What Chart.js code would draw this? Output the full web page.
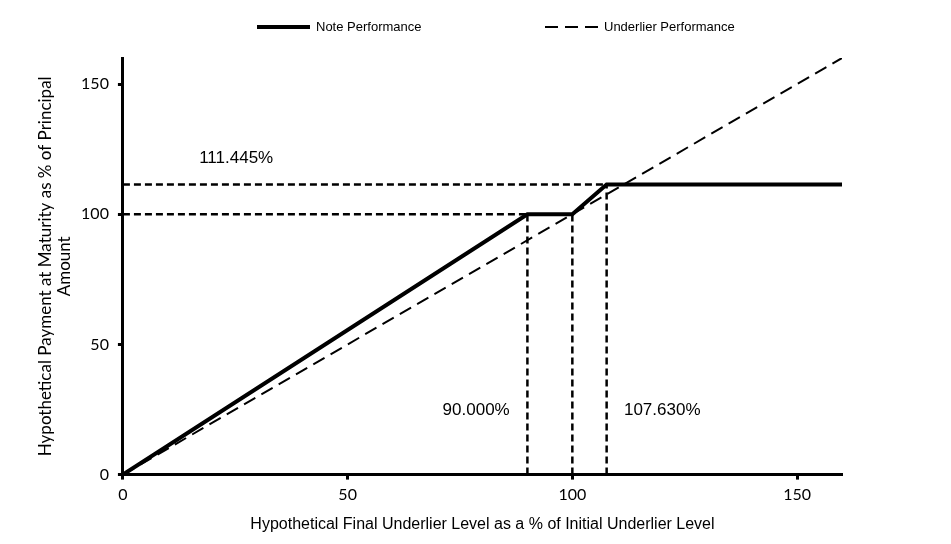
<!DOCTYPE html>
<html lang="en">
<head>
  <meta charset="UTF-8">
  <title>Note Performance</title>
  <script src="https://cdn.jsdelivr.net/npm/chart.js"></script>
  <style>
    html, body { margin: 0; padding: 0; background: #fff; }
    #wrap { width: 951px; height: 544px; }
  </style>
</head>
<body>
  <div id="wrap"><canvas id="chart" width="951" height="544"></canvas></div>

  <script>
    // payoff values
    const noteX = [0, 90, 100, 107.63, 160];
    const noteY = [0, 100, 100, 111.445, 111.445];
    const underX = [0, 160];
    const underY = [0, 160];

    const capLevel = 111.445;
    const capStrike = 107.63;
    const bufferLevel = 90;
    const initialLevel = 100;

    const xTicks = [0, 50, 100, 150];
    const yTicks = [0, 50, 100, 150];

    const seriesNames = ['Note Performance', 'Underlier Performance'];
    const annotationText = ['111.445%', '90.000%', '107.630%'];

    const pts = (xs, ys) => xs.map((x, i) => ({ x, y: ys[i] }));

    const guide = data => ({
      data, showLine: true, borderColor: '#000', borderWidth: 2.5,
      borderDash: [7, 4], pointRadius: 0, fill: false
    });

    const guides = [
      guide([{ x: 0, y: capLevel }, { x: capStrike, y: capLevel }]),
      guide([{ x: 0, y: initialLevel }, { x: bufferLevel, y: initialLevel }]),
      guide([{ x: bufferLevel, y: 0 }, { x: bufferLevel, y: initialLevel }]),
      guide([{ x: initialLevel, y: 0 }, { x: initialLevel, y: initialLevel }]),
      guide([{ x: capStrike, y: 0 }, { x: capStrike, y: capLevel }])
    ];

    // legend + value labels drawn by hand
    const extras = {
      id: 'extras',
      afterDraw(chart) {
        const ctx = chart.ctx;
        const xs = chart.scales.x, ys = chart.scales.y;
        ctx.save();
        ctx.fillStyle = '#000';
        ctx.strokeStyle = '#000';
        ctx.textBaseline = 'middle';

        ctx.font = '13px "Liberation Sans", Arial, sans-serif';
        ctx.lineWidth = 4;
        ctx.setLineDash([]);
        ctx.beginPath(); ctx.moveTo(257, 27); ctx.lineTo(310, 27); ctx.stroke();
        ctx.fillText(seriesNames[0], 316, 27);
        ctx.lineWidth = 2;
        ctx.setLineDash([13, 7]);
        ctx.beginPath(); ctx.moveTo(545, 27); ctx.lineTo(599, 27); ctx.stroke();
        ctx.setLineDash([]);
        ctx.fillText(seriesNames[1], 604, 27);

        ctx.font = '17px "Liberation Sans", Arial, sans-serif';
        ctx.textAlign = 'center';
        ctx.fillText(annotationText[0], xs.getPixelForValue(25.2), ys.getPixelForValue(121.5));
        ctx.fillText(annotationText[1], xs.getPixelForValue(78.6), ys.getPixelForValue(24.6));
        ctx.fillText(annotationText[2], xs.getPixelForValue(120), ys.getPixelForValue(24.6));
        ctx.restore();
      }
    };

    const axisTitleFont = { family: '"Liberation Sans", Arial, sans-serif', size: 16 };
    const tickFont = { family: 'Lato, "Open Sans", sans-serif', size: 16 };

    new Chart(document.getElementById('chart').getContext('2d'), {
      type: 'scatter',
      data: {
        datasets: [
          ...guides,
          {
            label: seriesNames[1], data: pts(underX, underY), showLine: true,
            borderColor: '#000', borderWidth: 2, borderDash: [13, 7],
            pointRadius: 0, fill: false
          },
          {
            label: seriesNames[0], data: pts(noteX, noteY), showLine: true,
            borderColor: '#000', borderWidth: 4, pointRadius: 0, fill: false
          }
        ]
      },
      options: {
        responsive: false,
        animation: false,
        layout: { padding: { top: 58, right: 109, bottom: 10, left: 36 } },
        plugins: { legend: { display: false }, tooltip: { enabled: false } },
        scales: {
          x: {
            type: 'linear', min: 0, max: 160,
            afterBuildTicks: s => { s.ticks = xTicks.map(v => ({ value: v })); },
            grid: { display: true, drawOnChartArea: false, drawTicks: true, tickLength: 5, tickWidth: 3, tickColor: '#000' },
            border: { display: true, color: '#000', width: 3 },
            ticks: { color: '#000', font: tickFont, padding: 6, maxRotation: 0 },
            title: { display: true, text: 'Hypothetical Final Underlier Level as a % of Initial Underlier Level', color: '#000', font: axisTitleFont, padding: { top: 4, bottom: 0 } }
          },
          y: {
            type: 'linear', min: 0, max: 160,
            afterBuildTicks: s => { s.ticks = yTicks.map(v => ({ value: v })); },
            grid: { display: true, drawOnChartArea: false, drawTicks: true, tickLength: 5, tickWidth: 3, tickColor: '#000' },
            border: { display: true, color: '#000', width: 3 },
            ticks: { color: '#000', font: tickFont, padding: 9 },
            title: { display: true, text: ['Hypothetical Payment at Maturity as % of Principal', 'Amount'], color: '#000', font: { family: 'Lato, sans-serif', size: 17, lineHeight: 1.12 }, padding: { top: 0, bottom: -2 } }
          }
        }
      },
      plugins: [extras]
    });
  </script>
</body>
</html>
